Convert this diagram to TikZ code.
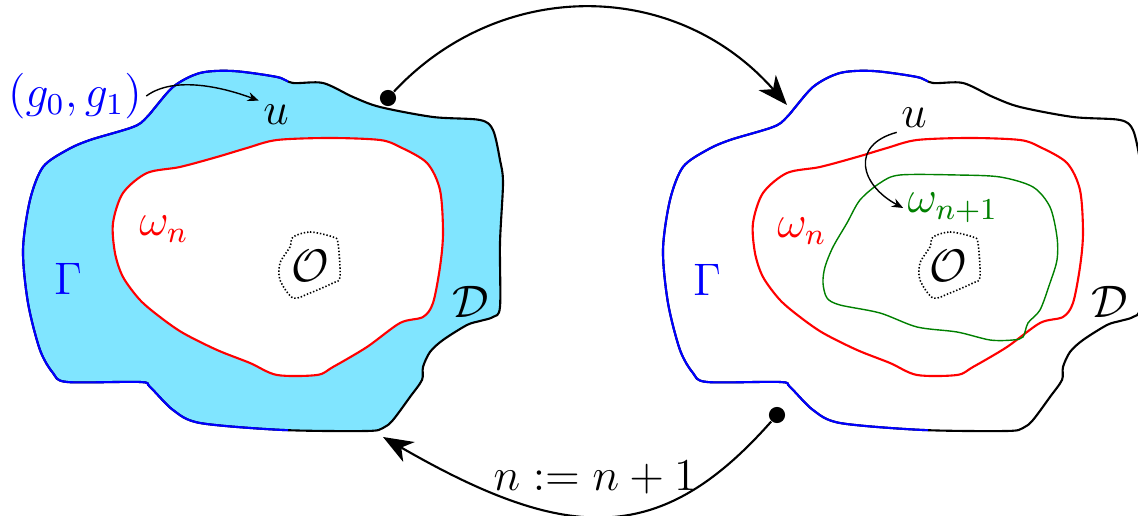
\documentclass[tikz,border=0pt]{standalone}
\usepackage{amsmath}
\usepackage{tikz}
\usetikzlibrary{arrows.meta}
\usepackage{xcolor}
\definecolor{skyfill}{RGB}{128,229,255}
\definecolor{darkgreen}{RGB}{0,128,0}

\begin{document}
\begin{tikzpicture}[x=0.01cm, y=-0.01cm, font=\large,
  bdline/.style={line width=0.6pt},
  obst/.style={line width=0.45pt, dash pattern=on 0.4pt off 0.55pt},
  lbl/.style={inner sep=1pt, scale=1.08},
  dot/.style={circle, fill, inner sep=0pt, minimum size=4.6pt},
  bigarrow/.style={-{Stealth[length=8.5pt, width=6.5pt, inset=2.5pt]}, line width=0.6pt},
  smallarrow/.style={-{Stealth[length=3.2pt, width=2.6pt]}, line width=0.4pt}]
\useasboundingbox (0,0) rectangle (1138,516);
\clip (0,0) rectangle (1138,516);
\foreach \dx/\tint in {0/skyfill, 640/white} {
  \begin{scope}[shift={(\dx,0)}]
    \path[save path=\outerbd] plot[smooth cycle] coordinates {
      (293,83) (323,83) (353,97) (380,107) (433,117) (480,120) (493,130)
      (500,160) (503,183) (500,243) (500,307) (493,317) (480,321) (467,325)
      (443,340) (430,352) (423,367) (422,380) (410,397) (393,420) (383,428)
      (367,431) (283,430) (200,423) (173,410) (150,387) (140,382) (67,382)
      (53,373) (40,350) (28,303) (23,250) (30,200) (43,167) (67,150) (90,140)
      (133,127) (147,117) (173,87) (200,73) (233,71) (277,77)};
    \path[save path=\innerbd] plot[smooth cycle] coordinates {
      (277,140) (330,138) (380,140) (400,147) (427,163) (440,190) (443,233)
      (440,267) (433,303) (423,317) (400,323) (367,347) (333,367) (317,375)
      (277,375) (250,363) (217,350) (183,333) (160,317) (140,300) (123,277)
      (115,253) (113,223) (123,193) (147,173) (180,167) (217,157) (247,148)};
    \fill[\tint, use path=\outerbd];
    \fill[white, use path=\innerbd];
    \draw[red, bdline, use path=\innerbd];
    \draw[bdline, use path=\outerbd];
    \begin{scope}
      \clip (0,0) rectangle (288,516);
      \draw[blue, bdline, use path=\outerbd];
    \end{scope}
    \draw[obst] plot[smooth cycle] coordinates {
      (293,237) (310,232) (333,237) (338,243) (340,277) (333,283)
      (310,293) (293,298) (280,280) (280,263) (290,247)};
  \end{scope}
}
% next level set, right copy only
\draw[darkgreen, line width=0.4pt] plot[smooth cycle] coordinates {
  (880,183) (900,175) (957,175) (1000,177) (1033,187) (1050,207) (1057,237)
  (1057,260) (1050,283) (1040,310) (1028,323) (1023,337) (1013,340) (990,340)
  (957,332) (917,327) (880,313) (840,305) (827,298) (823,283) (825,267)
  (833,247) (847,223) (860,200)};

% labels, left
\node[lbl, blue] (g0g1) at (75,96) {\((g_0, g_1)\)};
\node[lbl] (uleft) at (276,115) {\(u\)};
\node[lbl, red] (wleft) at (164,229) {\(\omega_n\)};
\node[lbl, blue] (gleft) at (68,279) {\(\Gamma\)};
\node[lbl] (oleft) at (310,266) {\(\mathcal{O}\)};
\node[lbl] (dleft) at (471,302) {\(\mathcal{D}\)};
% labels, right
\node[lbl] (uright) at (914,118) {\(u\)};
\node[lbl, darkgreen] (wnext) at (953,208) {\(\omega_{n+1}\)};
\node[lbl, red] (wright) at (802,231) {\(\omega_n\)};
\node[lbl, blue] (gright) at (707,280) {\(\Gamma\)};
\node[lbl] (oright) at (948,266) {\(\mathcal{O}\)};
\node[lbl] (dright) at (1110,302) {\(\mathcal{D}\)};
\node[lbl] (step) at (595,478) {\(n := n + 1\)};

% loop arrows
\node[dot] (dtop) at (388,98) {};
\node[dot] (dbot) at (777,415) {};
\coordinate (rin) at (787,105);
\coordinate (lin) at (383,437);
\draw[bigarrow] (dtop) .. controls (500,-22) and (675,-22) .. (rin);
\draw[bigarrow] (dbot) .. controls (662,545) and (570,545) .. (lin);

\draw[smallarrow] (g0g1.east) .. controls (175,75) and (225,88) .. (uleft.north west);
\draw[smallarrow] (uright.south west) .. controls (850,145) and (860,185) .. (wnext.west);
\end{tikzpicture}
\end{document}
